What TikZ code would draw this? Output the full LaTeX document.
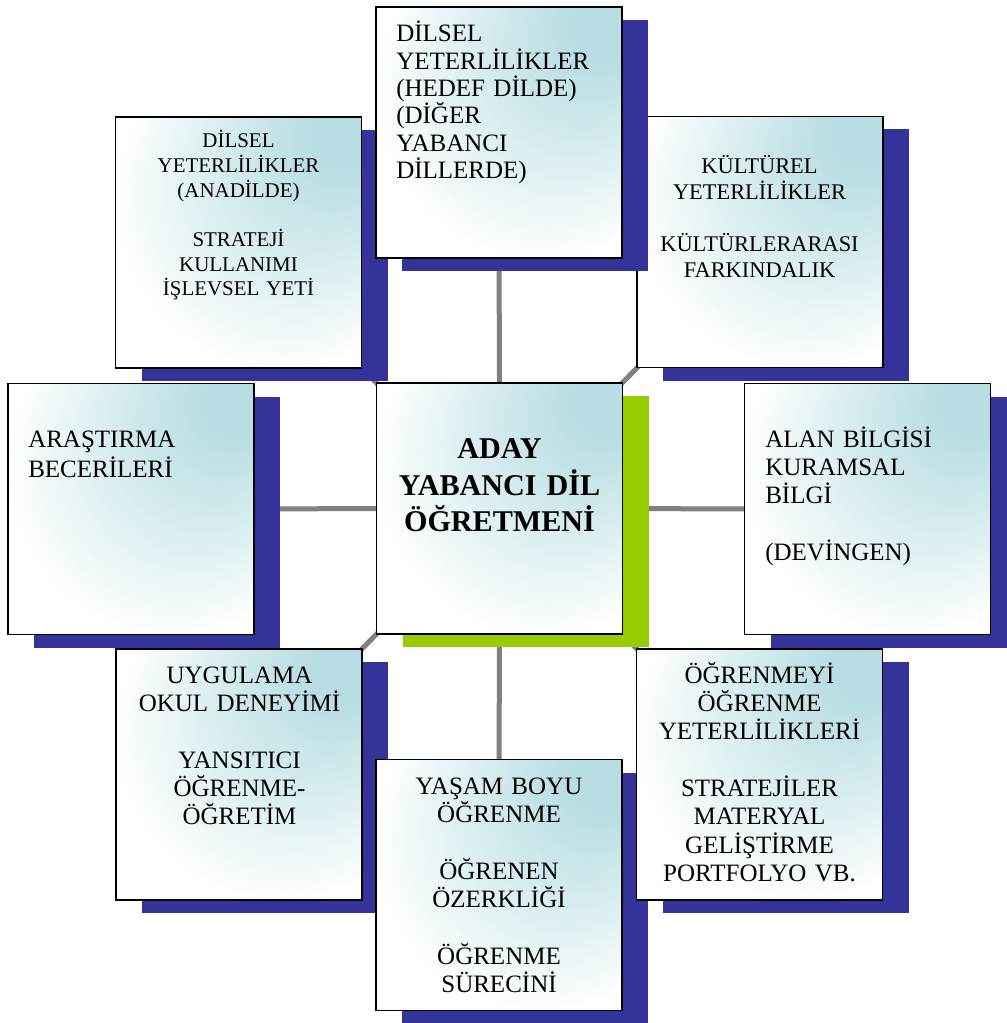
\documentclass[tikz,border=0pt]{standalone}
\usepackage{fontspec}
\setmainfont{Liberation Serif}
\usetikzlibrary{shadows}
\pgfdeclarelayer{background}
\pgfsetlayers{background,main}
\definecolor{boxteal}{RGB}{184,221,226}
\definecolor{shblue}{RGB}{51,51,153}
\definecolor{shgreen}{RGB}{153,204,0}
\definecolor{linkgray}{RGB}{128,128,128}
\pgfdeclareradialshading{cornerglow}{\pgfqpoint{25bp}{25bp}}{%
  color(0bp)=(boxteal); color(7bp)=(boxteal); color(34bp)=(white); color(50bp)=(white)}
\begin{document}
\begin{tikzpicture}[x=0.75pt,y=-0.75pt,
  cardbase/.style={draw=black, line width=1.2pt, rectangle,
    minimum width=184.5pt, minimum height=188.25pt, inner sep=0pt,
    shade, shading=cornerglow},
  card/.style={cardbase, general shadow={fill=shblue, shadow xshift=19.5pt, shadow yshift=-9.75pt}},
  centercard/.style={cardbase, general shadow={fill=shgreen, shadow xshift=19.5pt, shadow yshift=-9.75pt}},
  link/.style={draw=linkgray, line width=3.75pt},
  txt/.style={inner sep=0pt, text width=175pt},
  txtA/.style={txt, font=\fontsize{18.75pt}{21.25pt}\selectfont},
  txtTop/.style={txt, font=\fontsize{18.75pt}{20.5pt}\selectfont},
  txtTL/.style={txt, font=\fontsize{15.7pt}{18.5pt}\selectfont},
  txtTR/.style={txt, font=\fontsize{16.8pt}{19.5pt}\selectfont},
  txtL/.style={txt, font=\fontsize{18.75pt}{22.5pt}\selectfont},
  txtC/.style={txt, font=\fontsize{22.6pt}{27.5pt}\selectfont\bfseries}
]
\useasboundingbox (0,0) rectangle (1006,1023);

\node[card] (TR) at (760,242) {};
\node[card] (TL) at (238.5,242.5) {};
\node[card] (T) at (499,132.5) {};
\node[card] (L) at (131,509) {};
\node[centercard] (C) at (499.5,508.5) {};
\node[card] (R) at (867.5,509) {};
\node[card] (BL) at (239,774.5) {};
\node[card] (B) at (499,885) {};
\node[card] (BR) at (759.5,774.5) {};

\node[txtTop, anchor=base west, align=left] (Tt) at (396,42)
  {DİLSEL\\YETERLİLİKLER\\(HEDEF DİLDE)\\(DİĞER\\YABANCI\\DİLLERDE)};
\node[txtTL, anchor=base, align=center] (TLt) at (238.5,148)
  {DİLSEL\\YETERLİLİKLER\\(ANADİLDE)\\[\baselineskip]STRATEJİ\\KULLANIMI\\İŞLEVSEL YETİ};
\node[txtTR, anchor=base, align=center] (TRt) at (759.5,174)
  {KÜLTÜREL\\YETERLİLİKLER\\[\baselineskip]KÜLTÜRLERARASI\\FARKINDALIK};
\node[txtL, anchor=base west, align=left] (Lt) at (28,447)
  {ARAŞTIRMA\\BECERİLERİ};
\node[txtC, anchor=base, align=center] (Ct) at (499.5,458.5)
  {ADAY\\YABANCI DİL\\ÖĞRETMENİ};
\node[txtA, anchor=base west, align=left] (Rt) at (765,447)
  {ALAN BİLGİSİ\\KURAMSAL\\BİLGİ\\[\baselineskip](DEVİNGEN)};
\node[txtA, anchor=base, align=center] (BLt) at (239.5,683)
  {UYGULAMA\\OKUL DENEYİMİ\\[\baselineskip]YANSITICI\\ÖĞRENME-\\ÖĞRETİM};
\node[txtA, anchor=base, align=center] (Bt) at (499,794)
  {YAŞAM BOYU\\ÖĞRENME\\[\baselineskip]ÖĞRENEN\\ÖZERKLİĞİ\\[\baselineskip]ÖĞRENME\\SÜRECİNİ};
\node[txtA, anchor=base, align=center] (BRt) at (759.5,683)
  {ÖĞRENMEYİ\\ÖĞRENME\\YETERLİLİKLERİ\\[\baselineskip]STRATEJİLER\\MATERYAL\\GELİŞTİRME\\PORTFOLYO VB.};

\begin{pgfonlayer}{background}
\draw[link] (C.center) -- (T.center);
\draw[link] (C.center) -- (TL.center);
\draw[link] (C.center) -- (TR.center);
\draw[link] (C.center) -- (L.center);
\draw[link] (C.center) -- (R.center);
\draw[link] (C.center) -- (BL.center);
\draw[link] (C.center) -- (B.center);
\draw[link] (C.center) -- (BR.center);
\end{pgfonlayer}
\end{tikzpicture}
\end{document}
